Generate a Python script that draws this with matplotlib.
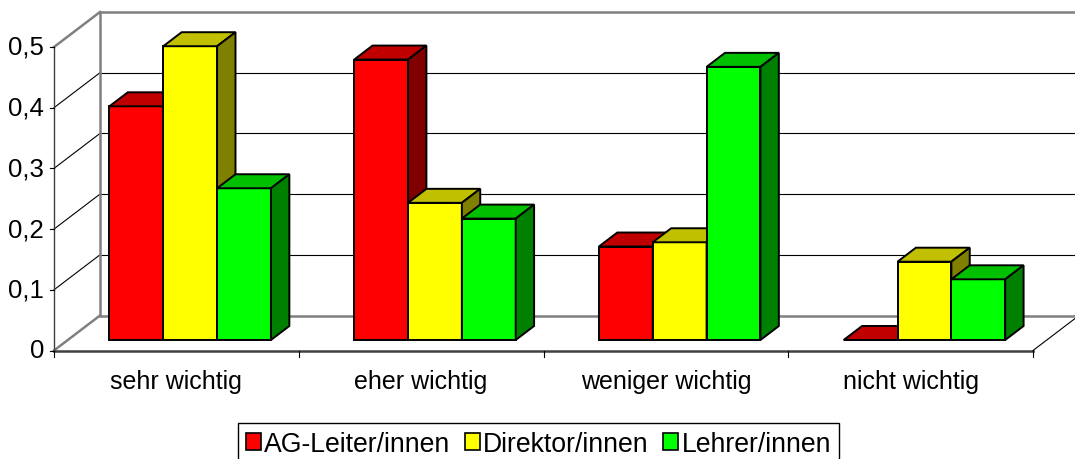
import matplotlib
matplotlib.use('Agg')
import matplotlib.pyplot as plt
from matplotlib.patches import Polygon, Patch
import numpy as np

plt.rcParams['font.family'] = ['Liberation Sans', 'DejaVu Sans']

kategorien = ['sehr wichtig', 'eher wichtig', 'weniger wichtig', 'nicht wichtig']
gruppen = ['AG-Leiter/innen', 'Direktor/innen', 'Lehrer/innen']
ag_leiter = [0.385, 0.462, 0.154, 0.0]
direktor = [0.484, 0.226, 0.161, 0.129]
lehrer = [0.25, 0.2, 0.45, 0.1]
y_ticks = [0, 0.1, 0.2, 0.3, 0.4, 0.5]
y_labels = ['0', '0,1', '0,2', '0,3', '0,4', '0,5']

serien = [ag_leiter, direktor, lehrer]
farben = [('#FF0000', '#C00000', '#800000'),
          ('#FFFF00', '#C0C000', '#808000'),
          ('#00FF00', '#00C000', '#008000')]

# Pixel-Geometrie (Achse ueber die ganze Figur)
W, H = 1075, 460
X0, PX_CAT = 54, 244.75
Y0, PX_VAL = 351.5, 607.0
DX = 46 / PX_CAT          # Tiefe in Kategorie-Einheiten
DY = 35 / PX_VAL          # Tiefe in Werte-Einheiten
D_FRONT, D_BACK = 0.3, 0.7
BW = 0.22
YMAX = 0.5


def proj(x, v, d):
    return x + d * DX, v + d * DY


fig = plt.figure(figsize=(W / 100, H / 100), dpi=100)
ax = fig.add_axes([0, 0, 1, 1])
ax.set_xlim(-X0 / PX_CAT, (W - X0) / PX_CAT)
ax.set_ylim(-(H - Y0) / PX_VAL, Y0 / PX_VAL)
ax.axis('off')

n = len(kategorien)
grau = '#808080'

# Rueckwand-Gitter
for v in y_ticks:
    (xa, ya), (xb, yb) = proj(0, v, 1), proj(n + 0.3, v, 1)
    c, lw = (grau, 1.8) if v in (0, YMAX) else ('black', 0.8)
    ax.plot([xa, xb], [ya, yb], color=c, lw=lw, zorder=1, solid_capstyle='butt')
    (xa, ya), (xb, yb) = proj(0, v, 0), proj(0, v, 1)
    ax.plot([xa, xb], [ya, yb], color=c, lw=lw, zorder=1)
# Kanten
(xa, ya), (xb, yb) = proj(0, 0, 1), proj(0, YMAX, 1)
ax.plot([xa, xb], [ya, yb], color=grau, lw=1.8, zorder=1)
ax.plot([0, 0], [0, YMAX], color='#404040', lw=1.0, zorder=1)
ax.plot([0, n], [0, 0], color='#404040', lw=1.8, zorder=1)
(xa, ya), (xb, yb) = proj(n, 0, 0), proj(n, 0, 1)
ax.plot([xa, xb], [ya, yb], color='black', lw=0.8, zorder=1)

# Ticks
for v, lab in zip(y_ticks, y_labels):
    ax.plot([-4 / PX_CAT, 0], [v, v], color='black', lw=0.8, zorder=1)
    ax.text(-10 / PX_CAT, v, lab, ha='right', va='center', fontsize=18.5)
for i in range(n + 1):
    ax.plot([i, i], [0, -6 / PX_VAL], color='black', lw=0.8, zorder=1)
for i, k in enumerate(kategorien):
    ax.text(i + 0.5, -31 / PX_VAL, k, ha='center', va='center', fontsize=18)

# Balken
tiefe = D_BACK - D_FRONT
for i in range(n):
    for j, (werte, (cf, ct, cs)) in enumerate(zip(serien, farben)):
        z = 2 + (i * 3 + j) * 0.01
        xl, yb = proj(i + 0.5 - 1.5 * BW + j * BW, 0, D_FRONT)
        v = werte[i]
        xr, yt = xl + BW, yb + v
        ax.bar(xl, v, BW, bottom=yb, align='edge', color=cf,
               edgecolor='black', lw=1.4, zorder=z)
        ox, oy = tiefe * DX, tiefe * DY
        top = Polygon([(xl, yt), (xr, yt), (xr + ox, yt + oy), (xl + ox, yt + oy)],
                      closed=True, facecolor=ct, edgecolor='black', lw=1.4,
                      joinstyle='miter', zorder=z)
        ax.add_patch(top)
        if v > 0:
            side = Polygon([(xr, yb), (xr, yt), (xr + ox, yt + oy), (xr + ox, yb + oy)],
                           closed=True, facecolor=cs, edgecolor='black', lw=1.4,
                           joinstyle='miter', zorder=z)
            ax.add_patch(side)

handles = [Patch(facecolor=f[0], edgecolor='black', lw=1.2) for f in farben]
leg = fig.legend(handles, gruppen, loc='upper left',
                 bbox_to_anchor=(238 / W, 1 - 424 / H), ncol=3, fontsize=19.2,
                 frameon=True, fancybox=False, edgecolor='black', framealpha=1,
                 borderpad=0.3, handlelength=0.56, handleheight=0.56,
                 handletextpad=0.12, columnspacing=0.55, borderaxespad=0)
leg.get_frame().set_linewidth(1.0)

fig.savefig('out.png', dpi=100)
